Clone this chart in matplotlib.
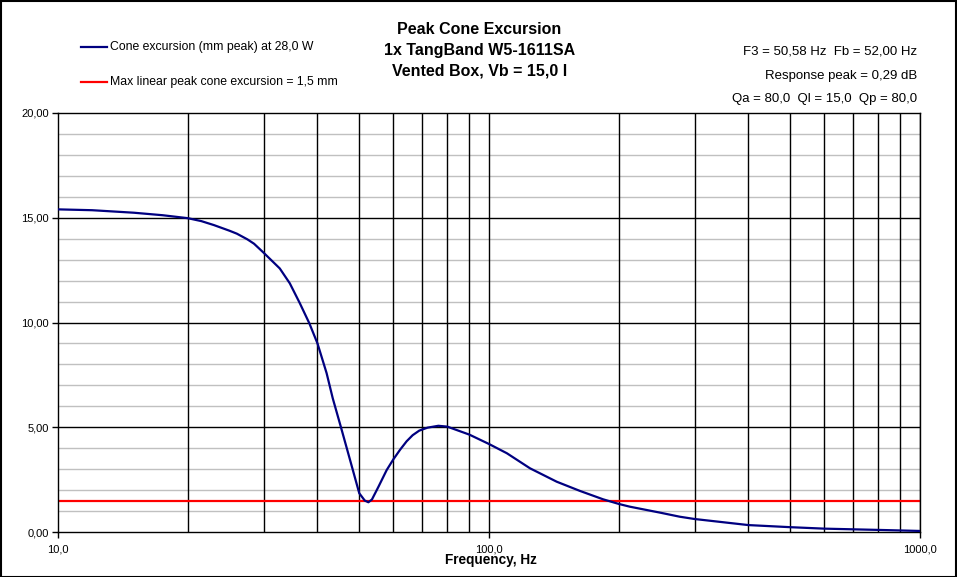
import matplotlib
matplotlib.use("Agg")
import matplotlib.pyplot as plt
from matplotlib.ticker import FixedLocator, NullFormatter, FuncFormatter
from matplotlib.patches import Rectangle

plt.rcParams['font.family'] = ['Liberation Sans', 'DejaVu Sans']

# ---- data ----
freq_hz = [10, 12, 15, 17.5, 20, 21.5, 23, 25, 26, 27.5, 28.5, 30, 32.7, 34.5, 36.4,
           38.3, 40, 42, 43.4, 45.3, 47.6, 50, 51.5, 52.5, 53.5, 55.4, 57.9, 60,
           62.2, 64.4, 66.5, 68.9, 72, 76.3, 80, 90, 100, 110, 124.5, 143.6, 162.6,
           184, 200, 212, 250, 277, 300, 400, 500, 600, 800, 1000]
excursion_mm = [15.40, 15.36, 15.24, 15.12, 14.98, 14.84, 14.65, 14.38, 14.24, 13.97,
                13.76, 13.33, 12.58, 11.87, 10.92, 9.96, 9.0, 7.58, 6.38, 5.03,
                3.44, 1.85, 1.50, 1.42, 1.55, 2.16, 2.96, 3.47, 3.93, 4.33, 4.62,
                4.84, 4.98, 5.07, 5.03, 4.65, 4.2, 3.76, 3.04, 2.40, 1.96, 1.56,
                1.34, 1.21, 0.92, 0.73, 0.62, 0.33, 0.23, 0.16, 0.10, 0.05]
xmax_mm = 1.5
x_limits = [10, 1000]
y_limits = [0, 20]
x_tick_labels = ["10,0", "100,0", "1000,0"]
title_lines = ["Peak Cone Excursion", "1x TangBand W5-1611SA", "Vented Box, Vb = 15,0 l"]
info_lines = ["F3 = 50,58 Hz  Fb = 52,00 Hz", "Response peak = 0,29 dB",
              "Qa = 80,0  Ql = 15,0  Qp = 80,0"]
legend_labels = ["Cone excursion (mm peak) at 28,0 W",
                 "Max linear peak cone excursion = 1,5 mm"]

W, H = 957, 577
fig = plt.figure(figsize=(W / 100, H / 100), dpi=100)
fig.patch.set_facecolor('white')

left, right, top, bottom = 58, 920, 113, 532
ax = fig.add_axes([left / W, 1 - bottom / H, (right - left) / W, (bottom - top) / H])
ax.set_xscale('log')
ax.set_xlim(*x_limits)
ax.set_ylim(*y_limits)

# grid
for v in range(1, 20):
    if v % 5:
        ax.axhline(v, color='#c0c0c0', lw=1.0, zorder=1)
for v in (5, 10, 15):
    ax.axhline(v, color='black', lw=1.0, zorder=1)
for dec in (10, 100):
    for m in range(2, 11):
        ax.axvline(dec * m, color='black', lw=1.0, zorder=1)

ax.plot(freq_hz, excursion_mm, color='#000080', lw=1.6, zorder=3)
ax.axhline(xmax_mm, color='#ff0000', lw=1.6, zorder=2)

# ticks
ax.xaxis.set_major_locator(FixedLocator([10, 100, 1000]))
ax.xaxis.set_minor_locator(FixedLocator([]))
ax.xaxis.set_minor_formatter(NullFormatter())
ax.set_xticklabels(x_tick_labels)
ax.tick_params(axis='x', direction='out', length=4, width=1, pad=5, labelsize=8)
ax.yaxis.set_major_locator(FixedLocator([0, 5, 10, 15, 20]))
ax.yaxis.set_major_formatter(FuncFormatter(lambda v, p: f"{v:.2f}".replace('.', ',')))
ax.tick_params(axis='y', direction='out', length=4, width=1, pad=2.5, labelsize=8)
for s in ax.spines.values():
    s.set_color('black')
    s.set_linewidth(1.0)

fig.text(491 / W, 1 - 560 / H, "Frequency, Hz", ha='center', va='center',
         fontsize=9.8, fontweight='bold')

# titles
for t, yy in zip(title_lines, [30, 50, 71]):
    fig.text(479.5 / W, 1 - yy / H, t, ha='center', va='center',
             fontsize=11.5, fontweight='bold')

# info texts
for t, yy in zip(info_lines, [52, 76, 99]):
    fig.text(917 / W, 1 - yy / H, t, ha='right', va='center', fontsize=9.5)

# legend (manual)
for lab, col, yy in zip(legend_labels, ['#000080', '#ff0000'], [47, 82]):
    fig.add_artist(plt.Line2D([81 / W, 107 / W], [1 - yy / H, 1 - yy / H],
                              color=col, lw=1.6, transform=fig.transFigure))
    fig.text(110 / W, 1 - yy / H, lab, ha='left', va='center', fontsize=8.8)

# figure border
fig.add_artist(Rectangle((0.5 / W, 0.5 / H), (W - 1.5) / W, (H - 1.5) / H,
                         transform=fig.transFigure, fill=False,
                         edgecolor='black', lw=1.5))

fig.savefig("out.png", dpi=100)
